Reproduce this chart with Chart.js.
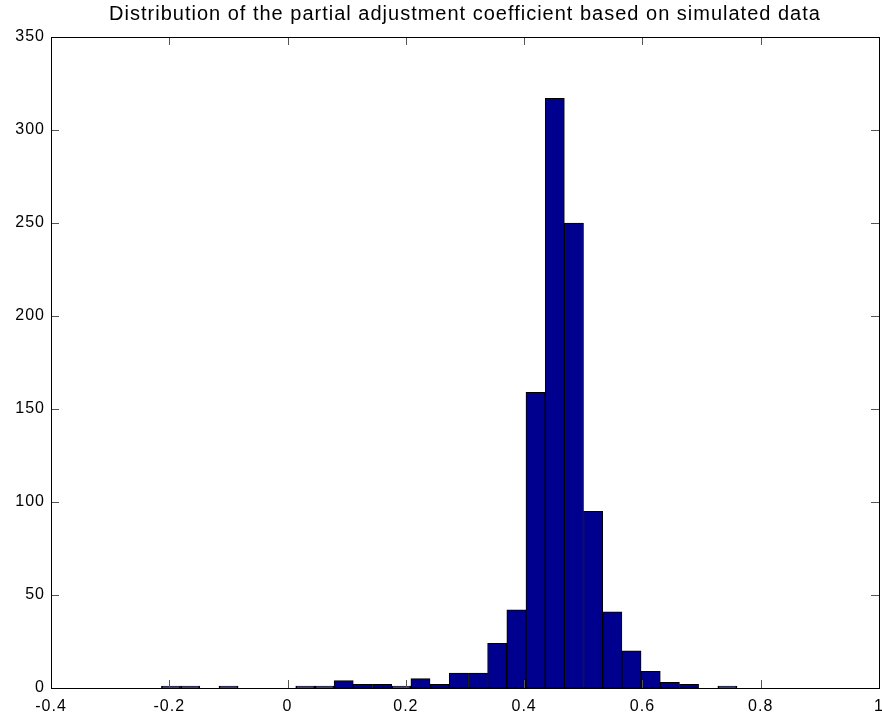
<!DOCTYPE html>
<html>
<head>
<meta charset="utf-8">
<script src="https://cdn.jsdelivr.net/npm/chart.js@4.4.0/dist/chart.umd.min.js"></script>
<style>
  html, body { margin: 0; padding: 0; background: #fff; }
  #wrap { width: 882px; height: 718px; }
</style>
</head>
<body>
<div id="wrap"><canvas id="myChart" width="882" height="718"></canvas></div>
<script>
// histogram bin centres and counts (30 bins)
const binCenters = [-0.1971, -0.1646, -0.1322, -0.0998, -0.0673, -0.0349, -0.0024, 0.0300, 0.0625, 0.0949,
                    0.1273, 0.1598, 0.1922, 0.2247, 0.2571, 0.2895, 0.3220, 0.3544, 0.3869, 0.4193,
                    0.4518, 0.4842, 0.5166, 0.5491, 0.5815, 0.6140, 0.6464, 0.6788, 0.7113, 0.7437];
const counts = [1, 1, 0, 1, 0, 0, 0, 1, 1, 4,
                2, 2, 1, 5, 2, 8, 8, 24, 42, 159,
                317, 250, 95, 41, 20, 9, 3, 2, 0, 1];
const xTicks = [-0.4, -0.2, 0, 0.2, 0.4, 0.6, 0.8, 1];
const yTicks = [0, 50, 100, 150, 200, 250, 300, 350];
const titleText = "Distribution of the partial adjustment coefficient based on simulated data";

const FONT = "'Liberation Sans', Arial, sans-serif";

// matlab text is a bit spaced out
const spacingPlugin = {
    id: 'spacing',
    beforeLayout(chart){ chart.ctx.letterSpacing = '1px'; },
    beforeDraw(chart){ chart.ctx.letterSpacing = '1px'; },
    afterLayout(chart){
        // centre the title over the plot box, not the whole canvas
        let t = chart.titleBlock;
        if (t){
            t.left = chart.chartArea.left;
            t.right = chart.chartArea.right;
        }
    }
};

// matlab style box with inward ticks on all four sides
const boxPlugin = {
    id: 'box',
    afterDraw(chart){
        const ctx = chart.ctx;
        const a = chart.chartArea;
        const xs = chart.scales.x, ys = chart.scales.y;
        const len = 8;
        ctx.save();
        ctx.strokeStyle = '#555';
        ctx.lineWidth = 1;
        ctx.beginPath();
        xTicks.forEach(v => {
            let px = Math.round(xs.getPixelForValue(v)) + 0.5;
            ctx.moveTo(px, a.bottom); ctx.lineTo(px, a.bottom - len);
            ctx.moveTo(px, a.top); ctx.lineTo(px, a.top + len);
        });
        yTicks.forEach(v => {
            let py = Math.round(ys.getPixelForValue(v)) + 0.5;
            ctx.moveTo(a.left, py); ctx.lineTo(a.left + len, py);
            ctx.moveTo(a.right, py); ctx.lineTo(a.right - len, py);
        });
        ctx.stroke();
        ctx.strokeStyle = '#000';
        ctx.strokeRect(Math.round(a.left) + 0.5, Math.round(a.top) + 0.5,
                       Math.round(a.right - a.left), Math.round(a.bottom - a.top));
        ctx.restore();
    }
};

let ctx = document.getElementById('myChart').getContext('2d');
let myChart = new Chart(ctx, {
    type: 'bar',
    data: {
        datasets: [{
            label: 'Count',
            data: binCenters.map((c, i) => ({x: c, y: counts[i]})),
            backgroundColor: 'rgb(0, 0, 143)',
            borderColor: '#000',
            borderWidth: 1,
            borderSkipped: false,
            barPercentage: 1,
            categoryPercentage: 1,
            grouped: false
        }]
    },
    options: {
        responsive: false,
        animation: false,
        layout: { padding: { left: 0, right: 3, top: 0, bottom: 0 } },
        plugins: {
            legend: { display: false },
            tooltip: { enabled: false },
            title: {
                display: true,
                text: titleText,
                color: '#000',
                font: { family: FONT, size: 20, weight: 'normal' },
                padding: { top: 2, bottom: 11 }
            }
        },
        scales: {
            x: {
                type: 'linear',
                min: -0.4,
                max: 1,
                offset: false,
                afterBuildTicks: s => { s.ticks = xTicks.map(v => ({value: v})); },
                afterFit: s => { s.height = 30; s.paddingLeft = 0; s.paddingRight = 0; },
                grid: { display: false, drawTicks: false },
                border: { display: false },
                ticks: {
                    color: '#000', padding: 9, maxRotation: 0, autoSkip: false,
                    font: { family: FONT, size: 16 },
                    callback: v => String(Math.round(v * 10) / 10)
                }
            },
            y: {
                min: 0,
                max: 350,
                afterBuildTicks: s => { s.ticks = yTicks.map(v => ({value: v})); },
                afterFit: s => { s.width = 51; s.paddingTop = 0; s.paddingBottom = 0; },
                grid: { display: false, drawTicks: false },
                border: { display: false },
                ticks: { color: '#000', padding: 6, font: { family: FONT, size: 16 } }
            }
        }
    },
    plugins: [spacingPlugin, boxPlugin]
});
</script>
</body>
</html>
